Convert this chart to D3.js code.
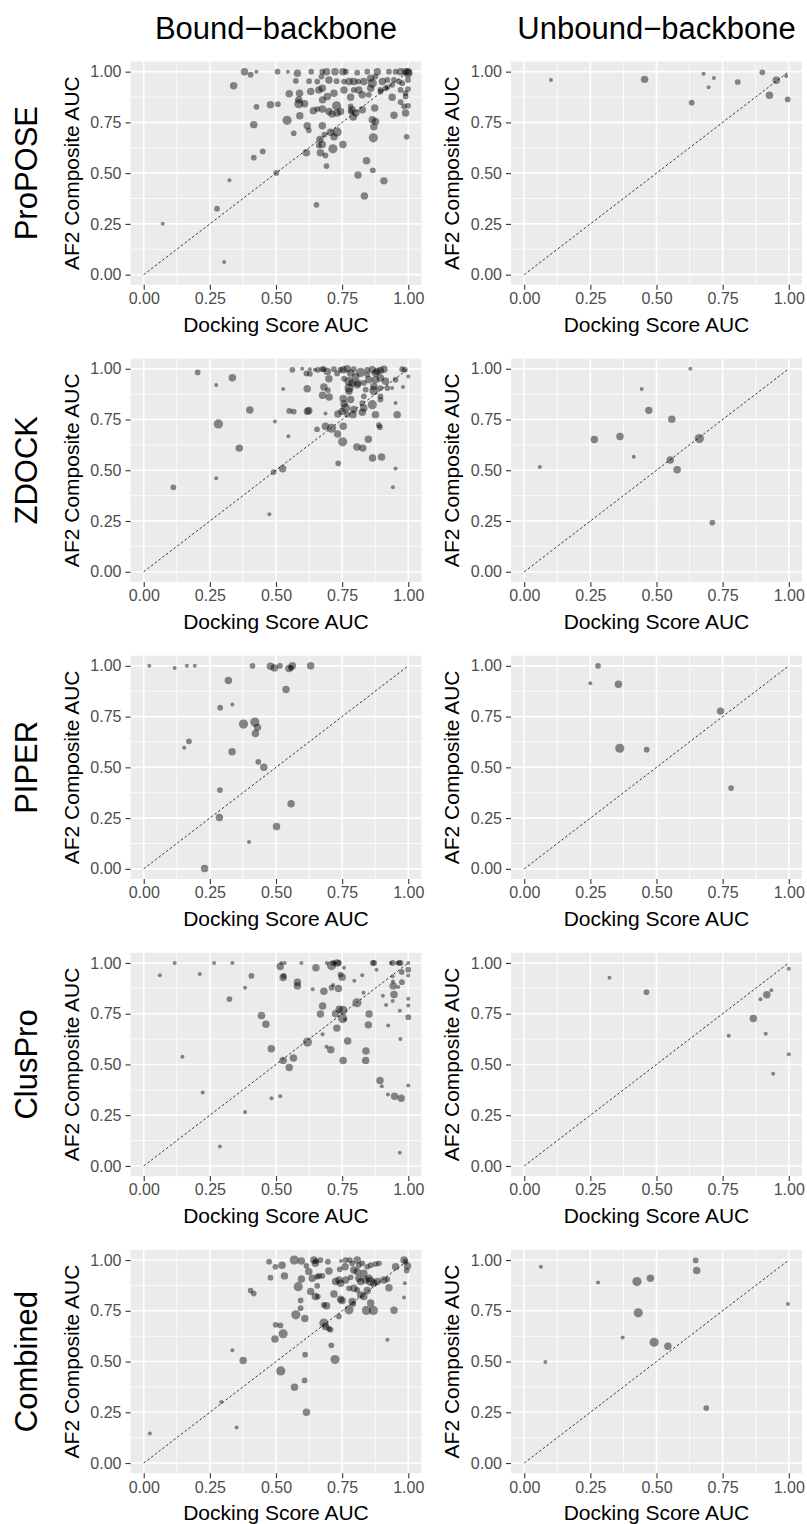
<!DOCTYPE html>
<html>
<head>
<meta charset="utf-8">
<script src="https://cdn.jsdelivr.net/npm/d3@7"></script>
<style>
  body { margin: 0; background: #fff; }
  svg text { font-family: "Liberation Sans", Arial, Helvetica, sans-serif; }
</style>
</head>
<body>
<div id="chart"></div>
<script>
// categories
const methods = ["ProPOSE", "ZDOCK", "PIPER", "ClusPro", "Combined"];
const backbones = ["Bound\u2212backbone", "Unbound\u2212backbone"];
const majorTicks = [0, 0.25, 0.5, 0.75, 1];
const minorTicks = [0.125, 0.375, 0.625, 0.875];
const tickLabels = ["0.00", "0.25", "0.50", "0.75", "1.00"];
const xTitle = "Docking Score AUC";
const yTitle = "AF2 Composite AUC";

// points: [docking score AUC, AF2 composite AUC, size]
const proposeBound = [
  [.381,1,3],[.404,.985,2],[.426,1,1],[.506,1,2],[.545,1,1],[.581,.992,3],[.633,1,2],[.675,1,2],[.691,1,3],[.723,1,3],[.753,1,3],[.764,1,2],[.807,.995,2],[.845,1,2],[.883,1,3],[.927,1,2],[.952,1,2],[.971,1,3],[.99,1,3],[1,1,3],[.999,.992,4],
  [.575,.954,2],[.34,.931,3],[.625,.953,2],[.656,.951,2],[.672,.976,2],[.675,.918,3],[.70,.959,3],[.729,.953,2],[.757,.951,2],[.776,.951,3],[.794,.951,3],[.811,.951,2],[.832,.951,3],[.858,.967,3],[.864,.943,4],[.876,.976,2],[.902,.951,3],[.921,.959,2],[.946,.959,2],[.965,.951,2],[.858,.918,3],[.895,.902,2],[.914,.918,2],[.939,.935,2],[.971,.910,2],[.999,.914,2],[.757,.910,3],[.794,.910,2],[.813,.910,3],[.826,.886,3],[.719,.894,3],[.694,.878,3],[.662,.910,3],[.631,.902,3],[.589,.894,3],[.550,.891,3],[.586,.861,3],[.782,.874,3],[.851,.886,2],[.895,.910,2],[.921,.923,2],[.939,.874,3],[.990,.878,2],[.999,.959,2],[.977,.943,2],[.99,.894,2],
  [.479,.837,3],[.507,.840,2],[.426,.827,2],[.586,.842,4],[.608,.842,3],[.676,.861,3],[.675,.816,3],[.656,.816,2],[.70,.804,3],[.729,.832,4],[.744,.804,3],[.712,.791,3],[.782,.829,2],[.788,.812,3],[.826,.812,3],[.801,.796,3],[.873,.821,3],[.782,.804,2],[.731,.796,3],[.641,.808,3],[.971,.850,2],[.984,.829,2],[.999,.832,2],[.99,.796,3],[.946,.785,3],[.792,.777,3],[.59,.783,3],[.542,.760,4],[.416,.739,3],[.618,.734,3],[.675,.734,3],[.864,.763,3],[.876,.755,3],[.870,.728,3],[.567,.696,2],[.624,.711,2],[.706,.701,3],[.731,.703,4],[.868,.674,4],[.994,.679,2],[.683,.690,2],[.666,.666,3],[.675,.641,3],[.719,.679,3],[.753,.641,3],[.715,.620,4],[.662,.636,2],[.615,.60,3],[.668,.60,3],[.687,.587,2],[.416,.576,2],[.45,.607,2],[.691,.535,2],[.842,.561,3],[.866,.514,2],[.81,.491,3],[.908,.462,3],[.834,.388,3],[.501,.501,2],[.324,.465,1],[.653,.344,2],[.277,.325,2],[.072,.251,1],[.304,.062,1]
];
const proposeUnbound = [
  [.101,.959,1],[.455,.962,3],[.678,.990,1],[.697,.923,1],[.717,.969,1],[.807,.949,2],[.633,.847,2],[.900,.997,2],[.953,.958,3],[.927,.884,3],[.990,.979,1],[.996,.863,2]
];
const zdockBound = [
  [.204,.982,2],[.274,.920,1],[.335,.956,3],[.401,.797,3],[.282,.728,4],[.361,.609,3],[.496,.740,1],[.527,.900,1],[.547,.668,1],[.274,.460,1],[.112,.416,2],[.475,.283,1],[.491,.491,2],[.525,.507,3],
  [.562,.995,2],[.599,1,1],[.615,.977,2],[.628,.998,1],[.628,.975,2],[.658,.995,2],[.618,.902,3],[.550,.792,2],[.567,.789,2],[.619,.790,3],[.624,.794,3],[.655,.702,2],[.647,.995,1],[.675,.998,2],[.681,.998,2],[.694,.987,3],[.700,.951,3],[.719,.998,2],[.681,.910,3],[.696,.895,2],[.676,.869,3],[.701,.861,3],[.687,.779,1],[.687,.717,3],[.710,.707,4],[.733,.679,3],
  [.731,.977,2],[.744,.995,2],[.754,.995,3],[.769,1,3],[.782,.979,3],[.794,.998,2],[.801,.962,3],[.820,.982,4],[.845,.995,2],[.864,.995,3],[.876,.979,3],[.895,.992,3],[.908,.998,3],[.845,.971,2],[.757,.951,2],[.776,.938,4],[.788,.930,3],[.810,.930,3],[.832,.930,2],[.851,.946,3],[.876,.946,3],[.895,.954,3],[.914,.938,3],[.776,.905,4],[.776,.889,3],[.807,.921,3],[.839,.897,2],[.870,.913,3],[.870,.892,4],[.895,.905,2],[.921,.905,2],[.939,.905,1],[.952,.946,2],[.977,.998,2],[.987,.995,2],[1,.962,1],[.980,.910,1],[.952,.831,1],[.958,.774,3],[.952,.509,1],[.942,.416,1],
  [.754,.853,3],[.757,.828,3],[.782,.848,3],[.763,.807,4],[.750,.790,3],[.794,.799,3],[.832,.864,2],[.826,.831,2],[.832,.807,3],[.864,.823,4],[.895,.864,2],[.895,.848,2],[.876,.774,3],[.889,.722,2],[.893,.712,2],[.826,.786,3],[.791,.774,3],[.769,.774,2],[.734,.777,3],[.754,.717,3],[.752,.640,4],[.806,.615,3],[.828,.609,3],[.849,.653,3],[.865,.560,3],[.899,.565,3],[.735,.534,2],[.883,.987,3]
];
const zdockUnbound = [
  [.059,.516,1],[.265,.651,3],[.362,.666,3],[.414,.566,1],[.444,.900,1],[.471,.795,3],[.558,.751,3],[.552,.550,3],[.578,.502,3],[.628,1,1],[.662,.656,4],[.711,.242,2]
];
const piperBound = [
  [.021,1,1],[.117,.990,1],[.163,1,1],[.193,1,1],[.411,1,2],[.479,.998,3],[.494,.990,3],[.515,1,2],[.549,.987,3],[.562,1,3],[.557,.990,2],[.631,1,3],[.320,.928,3],[.538,.884,3],[.289,.794,2],[.335,.809,1],[.377,.713,4],[.420,.723,4],[.430,.697,3],[.422,.667,3],[.171,.628,2],[.153,.597,1],[.334,.577,3],[.433,.527,2],[.454,.501,3],[.288,.388,2],[.557,.321,3],[.286,.253,3],[.502,.209,3],[.398,.132,1],[.230,.002,3]
];
const piperUnbound = [
  [.279,1,2],[.250,.914,1],[.356,.909,3],[.361,.594,4],[.463,.587,2],[.742,.777,3],[.782,.398,2]
];
const clusproBound = [
  [.061,.940,1],[.117,1,1],[.212,.946,1],[.266,1,1],[.335,1,1],[.146,.538,1],[.223,.362,1],[.288,.096,1],[.324,.822,2],[.383,.878,1],[.407,.936,2],[.445,.741,3],[.462,.698,3],[.482,.577,3],[.483,.333,1],[.383,.266,1],[.516,.343,1],[.516,.982,3],[.520,1,1],[.533,1,1],[.527,.928,3],[.529,.936,2],[.527,.520,3],[.550,.485,3],[.566,.532,3],[.581,.905,3],[.581,.887,3],[.596,1,1],[.619,.610,4],[.639,.871,1],[.651,.976,3],[.676,.788,3],[.668,.749,3],[.676,.649,1],[.681,.861,3],[.691,.587,1],[.692,1,1],[.707,.573,3],[.710,.987,4],[.716,1,2],[.723,1,1],[.731,1,3],[.738,1,2],[.710,.878,2],[.716,.891,1],[.725,.750,3],[.730,.679,3],[.736,.874,3],[.739,.772,3],[.744,.943,2],[.750,.930,3],[.757,.976,1],[.752,.726,4],[.753,.767,4],[.761,.721,1],[.754,.519,3],[.771,.615,3],[.796,.912,1],[.806,.804,4],[.826,.940,1],[.831,.853,1],[.852,.749,3],[.849,.695,3],[.840,.566,3],[.839,.520,3],[.866,1,2],[.871,1,2],[.880,.967,1],[.893,.421,3],[.900,.392,1],[.904,.838,1],[.916,.793,1],[.924,.692,1],[.923,.352,1],[.934,1,1],[.941,1,2],[.941,.935,1],[.941,.812,1],[.942,.909,1],[.943,.887,3],[.946,.845,3],[.948,.343,3],[.958,1,1],[.962,.881,1],[.965,1,2],[.968,.765,1],[.971,1,2],[.970,.625,1],[.968,.065,1],[.975,.956,2],[.976,.905,2],[.973,.333,3],[1,1,1],[1,.967,2],[1,.938,1],[1,.824,1],[1,.790,1],[1,.733,2],[1,.396,1]
];
const clusproUnbound = [
  [.322,.927,1],[.462,.856,2],[.773,.641,1],[.866,.726,3],[.893,.821,1],[.917,.843,3],[.934,.865,1],[.913,.651,1],[.941,.454,1],[1,.972,1],[1,.550,1]
];
const combinedBound = [
  [.023,.145,1],[.293,.301,1],[.351,.175,1],[.335,.556,1],[.376,.505,3],[.404,.850,2],[.416,.835,2],[.474,.992,2],[.479,.913,2],[.498,.967,2],[.523,.974,3],[.532,.922,3],[.499,.681,2],[.517,.678,2],[.496,.611,3],[.527,.637,4],[.518,.454,4],[.570,.374,3],[.608,.407,2],[.615,.25,3],[.610,.534,2],[.569,1,4],[.596,.995,3],[.584,.869,4],[.596,.907,3],[.593,.801,2],[.593,.763,2],[.575,.730,4],[.609,.712,3],[.615,.971,2],[.624,.943,3],[.637,.910,3],[.643,1,3],[.649,.984,3],[.631,.845,3],[.649,.820,3],[.658,.820,2],[.656,.873,2],[.662,.922,2],[.668,1,2],[.700,.946,3],[.696,.992,2],[.656,.918,2],[.651,.995,2],[.675,.922,2],[.681,.779,2],[.691,.775,3],[.681,.690,4],[.687,.673,3],[.700,.662,2],[.706,.657,2],[.709,.580,2],[.723,.510,4],[.719,.833,3],[.741,.954,2],[.746,.995,1],[.763,1,2],[.779,1,2],[.761,.967,3],[.788,.984,2],[.807,1,3],[.813,.975,2],[.826,.984,2],[.794,.951,3],[.782,.915,2],[.807,.943,3],[.832,.935,3],[.845,.967,2],[.858,.975,2],[.876,.980,2],[.889,.984,2],[.725,.894,3],[.738,.902,3],[.744,.886,3],[.763,.902,3],[.776,.861,2],[.794,.861,3],[.813,.910,3],[.820,.894,3],[.839,.902,3],[.851,.910,3],[.858,.894,4],[.870,.886,3],[.883,.894,3],[.807,.853,2],[.820,.828,3],[.832,.820,3],[.845,.850,3],[.744,.807,3],[.750,.801,3],[.788,.796,3],[.776,.755,4],[.738,.722,2],[.792,.784,2],[.858,.788,3],[.842,.752,4],[.868,.752,4],[.921,.905,2],[.908,.902,3],[.927,.864,3],[.946,.753,3],[.952,.967,3],[.984,1,3],[.990,.992,2],[.997,.971,3],[.994,.948,2],[.987,.886,1],[.984,.815,1],[.921,.608,1]
];
const combinedUnbound = [
  [.063,.967,1],[.080,.498,1],[.279,.889,1],[.372,.618,1],[.426,.894,4],[.431,.740,4],[.477,.910,3],[.491,.595,4],[.543,.575,3],[.648,.998,2],[.652,.948,3],[.688,.271,2],[.997,.783,1]
];

const panelData = [
  [proposeBound, proposeUnbound],
  [zdockBound, zdockUnbound],
  [piperBound, piperUnbound],
  [clusproBound, clusproUnbound],
  [combinedBound, combinedUnbound]
];

const width = 807;
const height = 1524;
const panelW = 291;
const panelH = 223.3;
const colX = [130.5, 511];
const rowTop0 = 61.5;
const rowPitch = 297.1;

const svg = d3.select("#chart").append("svg")
  .attr("width", width)
  .attr("height", height)
  .attr("viewBox", `0 0 ${width} ${height}`);

svg.append("rect").attr("width", width).attr("height", height).attr("fill", "#fff");

const rScale = d3.scaleLinear().domain([1, 4]).range([2, 4.6]);

// column titles
backbones.forEach((b, c) => {
  svg.append("text")
    .attr("x", colX[c] + panelW / 2)
    .attr("y", 39)
    .attr("text-anchor", "middle")
    .attr("font-size", 31)
    .attr("fill", "#000")
    .text(b);
});

methods.forEach((m, r) => {
  const top = rowTop0 + r * rowPitch;

  // row label
  svg.append("text")
    .attr("transform", `translate(37, ${top + panelH / 2}) rotate(-90)`)
    .attr("text-anchor", "middle")
    .attr("font-size", 31)
    .attr("fill", "#000")
    .text(m);

  backbones.forEach((b, c) => {
    const left = colX[c];
    const x = d3.scaleLinear().domain([-0.05, 1.05]).range([left, left + panelW]);
    const y = d3.scaleLinear().domain([-0.05, 1.05]).range([top + panelH, top]);
    const g = svg.append("g");

    g.append("rect")
      .attr("x", left).attr("y", top)
      .attr("width", panelW).attr("height", panelH)
      .attr("fill", "#EBEBEB");

    // minor grid
    minorTicks.forEach(t => {
      g.append("line").attr("x1", x(t)).attr("x2", x(t)).attr("y1", top).attr("y2", top + panelH)
        .attr("stroke", "#fff").attr("stroke-width", 0.8);
      g.append("line").attr("x1", left).attr("x2", left + panelW).attr("y1", y(t)).attr("y2", y(t))
        .attr("stroke", "#fff").attr("stroke-width", 0.8);
    });
    // major grid
    majorTicks.forEach(t => {
      g.append("line").attr("x1", x(t)).attr("x2", x(t)).attr("y1", top).attr("y2", top + panelH)
        .attr("stroke", "#fff").attr("stroke-width", 1.6);
      g.append("line").attr("x1", left).attr("x2", left + panelW).attr("y1", y(t)).attr("y2", y(t))
        .attr("stroke", "#fff").attr("stroke-width", 1.6);
    });

    // identity line
    g.append("line")
      .attr("x1", x(0)).attr("y1", y(0))
      .attr("x2", x(1)).attr("y2", y(1))
      .attr("stroke", "#222").attr("stroke-width", 0.9)
      .attr("stroke-dasharray", "2.5,2.2");

    // points
    g.append("g").selectAll("circle")
      .data(panelData[r][c])
      .join("circle")
      .attr("cx", d => x(d[0]))
      .attr("cy", d => y(d[1]))
      .attr("r", d => rScale(d[2]))
      .attr("fill", "#000")
      .attr("fill-opacity", 0.45);

    // axes
    const xAxis = d3.axisBottom(x).tickValues(majorTicks)
      .tickFormat((d, i) => tickLabels[i]).tickSize(5).tickPadding(3);
    const yAxis = d3.axisLeft(y).tickValues(majorTicks)
      .tickFormat((d, i) => tickLabels[i]).tickSize(5).tickPadding(4);

    const xg = g.append("g").attr("transform", `translate(0, ${top + panelH})`).call(xAxis);
    const yg = g.append("g").attr("transform", `translate(${left}, 0)`).call(yAxis);
    [xg, yg].forEach(a => {
      a.select(".domain").remove();
      a.selectAll(".tick line").attr("stroke", "#333").attr("stroke-width", 1.1);
      a.selectAll(".tick text").attr("fill", "#4D4D4D").attr("font-size", 16)
        .attr("font-family", "Liberation Sans, Arial, sans-serif");
    });

    // axis titles
    g.append("text")
      .attr("x", left + panelW / 2)
      .attr("y", top + panelH + 47)
      .attr("text-anchor", "middle")
      .attr("font-size", 21)
      .attr("fill", "#000")
      .text(xTitle);

    g.append("text")
      .attr("transform", `translate(${left - 52}, ${top + panelH / 2}) rotate(-90)`)
      .attr("text-anchor", "middle")
      .attr("font-size", 21)
      .attr("fill", "#000")
      .text(yTitle);
  });
});
</script>
</body>
</html>
